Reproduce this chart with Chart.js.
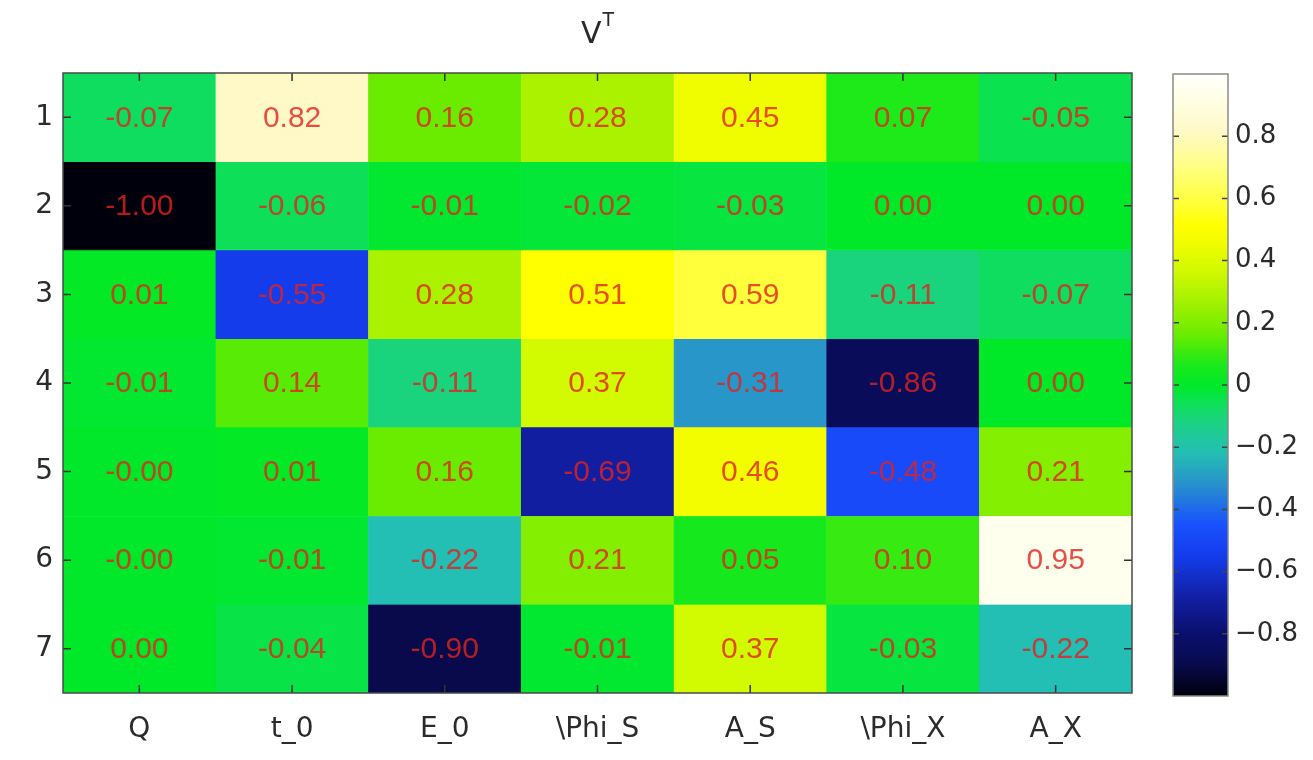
<!DOCTYPE html>
<html>
<head>
<meta charset="utf-8">
<script src="https://cdn.jsdelivr.net/npm/chart.js@4.4.1/dist/chart.umd.min.js"></script>
<style>
  html, body { margin: 0; padding: 0; background: #ffffff; }
  #wrap { position: relative; width: 1313px; height: 760px; }
  #wrap canvas { position: absolute; left: 0; top: 0; }
</style>
</head>
<body>
<div id="wrap">
  <canvas id="heat" width="1313" height="760"></canvas>
  <canvas id="cbar" width="1313" height="760"></canvas>
</div>
<script>
// Columns (parameters) and rows (components) of the matrix V^T
const columns = ['Q', 't_0', 'E_0', '\\Phi_S', 'A_S', '\\Phi_X', 'A_X'];
const rowLabels = ['1', '2', '3', '4', '5', '6', '7'];

// Matrix entries, one array per row (top to bottom)
const row1 = [-0.07, 0.82, 0.16, 0.28, 0.45, 0.07, -0.05];
const row2 = [-1.00, -0.06, -0.01, -0.02, -0.03, 0.00, 0.00];
const row3 = [0.01, -0.55, 0.28, 0.51, 0.59, -0.11, -0.07];
const row4 = [-0.01, 0.14, -0.11, 0.37, -0.31, -0.86, 0.00];
const row5 = [-0.004, 0.01, 0.16, -0.69, 0.46, -0.48, 0.21];
const row6 = [-0.004, -0.01, -0.22, 0.21, 0.05, 0.10, 0.95];
const row7 = [0.00, -0.04, -0.90, -0.01, 0.37, -0.03, -0.22];
const rows = [row1, row2, row3, row4, row5, row6, row7];

// Colour bar range and its labelled ticks
const cbRange = [-1, 1];
const cbTicks = [-0.8, -0.6, -0.4, -0.2, 0, 0.2, 0.4, 0.6, 0.8];

// Colour map: black -> blue -> cyan -> green -> yellow -> white
const cmap = [
  [-1.00, [0, 0, 12]],
  [-0.90, [8, 10, 75]],
  [-0.80, [10, 15, 110]],
  [-0.69, [18, 30, 160]],
  [-0.55, [20, 60, 235]],
  [-0.45, [25, 80, 255]],
  [-0.31, [40, 150, 200]],
  [-0.22, [35, 190, 180]],
  [-0.11, [25, 212, 125]],
  [-0.05, [10, 226, 80]],
  [0.00, [0, 233, 40]],
  [0.07, [30, 233, 25]],
  [0.16, [105, 236, 0]],
  [0.28, [170, 242, 0]],
  [0.37, [210, 250, 0]],
  [0.45, [240, 252, 0]],
  [0.51, [255, 255, 0]],
  [0.59, [255, 255, 60]],
  [0.70, [255, 255, 130]],
  [0.82, [255, 249, 200]],
  [0.95, [255, 255, 238]],
  [1.00, [255, 255, 255]]
];

function colorFor(v) {
  if (v <= cmap[0][0]) return rgb(cmap[0][1]);
  for (let k = 1; k < cmap.length; k++) {
    const [v1, c1] = cmap[k];
    const [v0, c0] = cmap[k - 1];
    if (v <= v1) {
      const t = (v - v0) / (v1 - v0);
      return rgb(c0.map((c, i) => c + (c1[i] - c) * t));
    }
  }
  return rgb(cmap[cmap.length - 1][1]);
}
function rgb(c) {
  return 'rgb(' + c.map(x => Math.round(x)).join(',') + ')';
}

const AXIS_FONT = { family: 'DejaVu Sans', size: 28 };
const CB_FONT = { family: 'DejaVu Sans', size: 26 };
const TEXT = '#2b2b2b';

// Frame, inward tick marks, cell values and the title
const heatDecor = {
  id: 'heatDecor',
  afterDatasetsDraw(chart) {
    const { ctx, chartArea: a, scales: { x, y } } = chart;
    ctx.save();
    // cell values
    ctx.font = '30px "Liberation Sans", Arial, sans-serif';
    ctx.textAlign = 'center';
    ctx.textBaseline = 'middle';
    ctx.fillStyle = 'rgba(226, 34, 30, 0.8)';
    rows.forEach((r, i) => {
      r.forEach((v, j) => {
        ctx.fillText(v.toFixed(2), x.getPixelForValue(j), y.getPixelForValue(i + 1) + 1);
      });
    });
    // tick marks
    ctx.strokeStyle = '#333';
    ctx.lineWidth = 1.5;
    const L = 8;
    ctx.beginPath();
    x.ticks.forEach((t, k) => {
      const px = x.getPixelForTick(k);
      ctx.moveTo(px, a.bottom); ctx.lineTo(px, a.bottom - L);
      ctx.moveTo(px, a.top); ctx.lineTo(px, a.top + L);
    });
    y.ticks.forEach((t, k) => {
      const py = y.getPixelForTick(k);
      ctx.moveTo(a.left, py); ctx.lineTo(a.left + L, py);
      ctx.moveTo(a.right, py); ctx.lineTo(a.right - L, py);
    });
    ctx.stroke();
    // frame
    ctx.strokeStyle = '#4a4a4a';
    ctx.lineWidth = 1.5;
    ctx.strokeRect(a.left, a.top, a.right - a.left, a.bottom - a.top);
    // title V^T
    const cx = (a.left + a.right) / 2;
    ctx.fillStyle = TEXT;
    ctx.textBaseline = 'alphabetic';
    ctx.textAlign = 'left';
    ctx.font = '30px "DejaVu Sans"';
    const wV = ctx.measureText('V').width;
    ctx.font = '19px "DejaVu Sans"';
    const wT = ctx.measureText('T').width;
    const x0 = cx - (wV + wT + 1) / 2;
    ctx.font = '30px "DejaVu Sans"';
    ctx.fillText('V', x0, 43);
    ctx.font = '19px "DejaVu Sans"';
    ctx.fillText('T', x0 + wV + 1, 26);
    ctx.restore();
  }
};

new Chart(document.getElementById('heat'), {
  type: 'bar',
  data: {
    labels: columns,
    datasets: rows.map((r, i) => ({
      label: rowLabels[i],
      data: r.map(() => [i + 0.5, i + 1.5]),
      backgroundColor: r.map(colorFor),
      borderColor: r.map(colorFor),
      borderWidth: 0.6,
      borderSkipped: false,
      barPercentage: 1,
      categoryPercentage: 1,
      grouped: false
    }))
  },
  options: {
    responsive: false,
    animation: false,
    devicePixelRatio: 1,
    layout: { padding: { left: 0, top: 73, right: 181, bottom: 0 } },
    plugins: { legend: { display: false }, tooltip: { enabled: false }, title: { display: false } },
    scales: {
      x: {
        afterFit(s) { s.height = 67; },
        grid: { display: false, drawTicks: false },
        border: { display: false },
        ticks: { font: AXIS_FONT, color: TEXT, padding: 20, maxRotation: 0, autoSkip: false }
      },
      y: {
        reverse: true,
        min: 0.5,
        max: 7.5,
        afterFit(s) { s.width = 63; },
        afterBuildTicks(s) { s.ticks = rowLabels.map((_, i) => ({ value: i + 1 })); },
        grid: { display: false, drawTicks: false },
        border: { display: false },
        ticks: {
          font: AXIS_FONT, color: TEXT, padding: 10,
          callback: v => rowLabels[Math.round(v) - 1]
        }
      }
    }
  },
  plugins: [heatDecor]
});

// Colour bar
function cbLabel(v) {
  const r = Math.round(v * 10) / 10;
  if (r === 0) return '0';
  return (r < 0 ? '\u2212' : '') + Math.abs(r).toFixed(1);
}

function cbGradient(c) {
  const chart = c.chart;
  const ys = chart.scales && chart.scales.y;
  if (!ys) return '#00e928';
  const p0 = ys.getPixelForValue(cbRange[0]);
  const p1 = ys.getPixelForValue(cbRange[1]);
  if (!isFinite(p0) || !isFinite(p1) || p0 === p1) return '#00e928';
  const g = chart.ctx.createLinearGradient(0, p0, 0, p1);
  cmap.forEach(([v, col]) => {
    g.addColorStop((v - cbRange[0]) / (cbRange[1] - cbRange[0]), rgb(col));
  });
  return g;
}

const cbDecor = {
  id: 'cbDecor',
  afterDatasetsDraw(chart) {
    const { ctx, chartArea: a, scales: { y } } = chart;
    ctx.save();
    ctx.strokeStyle = '#444';
    ctx.lineWidth = 1.5;
    ctx.beginPath();
    y.ticks.forEach((t, k) => {
      const py = y.getPixelForTick(k);
      ctx.moveTo(a.left, py); ctx.lineTo(a.left + 6, py);
      ctx.moveTo(a.right, py); ctx.lineTo(a.right - 6, py);
    });
    ctx.stroke();
    ctx.strokeStyle = '#8a8a8a';
    ctx.lineWidth = 1.5;
    ctx.strokeRect(a.left, a.top, a.right - a.left, a.bottom - a.top);
    ctx.restore();
  }
};

const cbChart = new Chart(document.getElementById('cbar'), {
  type: 'bar',
  data: {
    labels: [''],
    datasets: [{
      data: [cbRange],
      backgroundColor: cbGradient,
      borderWidth: 0,
      barPercentage: 1,
      categoryPercentage: 1
    }]
  },
  options: {
    responsive: false,
    animation: false,
    devicePixelRatio: 1,
    layout: { padding: { left: 1173, top: 74, right: 0, bottom: 64 } },
    plugins: { legend: { display: false }, tooltip: { enabled: false } },
    scales: {
      x: { display: false },
      y: {
        position: 'right',
        min: cbRange[0],
        max: cbRange[1],
        afterFit(s) { s.width = 85; },
        afterBuildTicks(s) { s.ticks = cbTicks.map(v => ({ value: v })); },
        grid: { display: false, drawTicks: false },
        border: { display: false },
        ticks: { font: CB_FONT, color: TEXT, padding: 7, callback: v => cbLabel(v) }
      }
    }
  },
  plugins: [cbDecor]
});
// second pass so the gradient is built once the scale has its pixel range
cbChart.update();
</script>
</body>
</html>
